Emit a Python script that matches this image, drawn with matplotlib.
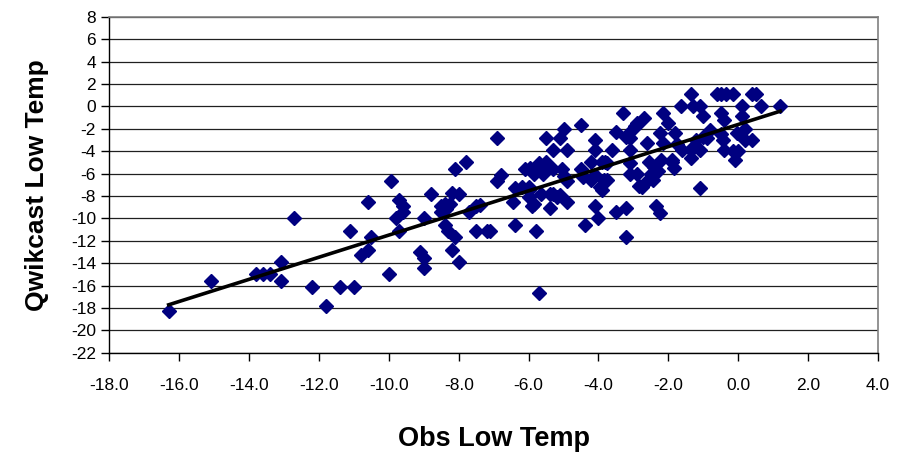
import numpy as np
import matplotlib
matplotlib.use("Agg")
import matplotlib.pyplot as plt

# ------------------- DATA ------------------- #
obs_low = [
    -16.3, -15.1, -13.8, -13.6, -13.4, -13.1, -13.1, -12.7, -12.2, -11.8,
    -11.4, -11.0, -11.1, -10.6, -10.8, -10.6, -10.5, -10.0, -9.8, -9.95,
    -9.7, -9.6, -9.6, -9.7,
    -9.0, -9.1, -9.0, -9.0, -8.8, -8.5, -8.4, -8.25, -8.5, -8.35,
    -8.4, -8.3, -8.1, -8.2, -8.0, -8.1, -7.8, -8.2, -8.0, -7.7,
    -7.5, -7.4, -7.5, -7.2, -7.1, -6.9, -6.9, -6.8,
    -6.45, -6.4, -6.2, -6.0, -6.0, -6.4,
    -6.1, -5.95, -5.85, -5.85, -5.7, -5.6, -5.5, -5.45, -5.3, -5.05, -5.0,
    -6.0, -5.9, -5.85, -5.65, -5.8, -5.7,
    -5.5, -5.3, -5.1, -5.0, -4.9,
    -5.4, -5.3, -5.2, -5.1, -4.9, -5.4, -4.9,
    -4.5, -4.5, -4.45, -4.4,
    -4.2, -4.2, -4.1, -4.1, -4.1, -3.95, -3.85, -3.9, -4.1, -4.0,
    -3.9, -3.75, -3.8, -3.75, -3.6, -3.5, -3.5, -3.2, -3.2, -3.3,
    -3.1, -3.1, -3.1, -3.1, -3.1, -2.9, -2.9, -2.85, -3.2,
    -2.9, -2.7, -2.95,
    -2.6, -2.55, -2.4, -2.5, -2.45, -2.75, -2.6, -2.35, -2.25,
    -2.25, -2.15, -2.15, -2.2, -2.3,
    -2.0, -1.8, -1.9, -1.85, -1.9,
    -1.65, -1.35, -1.3, -1.1, -1.0,
    -1.75, -1.6, -1.35, -1.35, -1.3, -1.2,
    -1.1, -1.0, -0.9, -0.8, -1.1,
    -0.6, -0.5, -0.35, -0.15,
    -0.5, -0.4, -0.45, -0.5, -0.4, -0.15,
    -0.05, -0.1,
    0.1, 0.1, 0.2, 0.2, 0.4, 0.0,
    0.4, 0.5, 0.65, 1.2,
]

qwik_low = [
    -18.3, -15.6, -15.0, -15.0, -15.0, -13.9, -15.6, -10.0, -16.1, -17.8,
    -16.1, -16.1, -11.1, -8.5, -13.3, -12.8, -11.7, -15.0, -10.0, -6.7,
    -8.4, -8.9, -9.4, -11.1,
    -10.0, -13.0, -13.5, -14.4, -7.8, -8.9, -8.7, -8.7, -9.4, -9.2,
    -10.6, -11.1, -11.7, -12.8, -13.9, -5.6, -5.0, -7.7, -7.8, -9.4,
    -8.9, -8.8, -11.1, -11.1, -11.1, -2.8, -6.7, -6.1,
    -8.5, -7.3, -7.2, -7.2, -7.5, -10.6,
    -5.6, -5.5, -6.0, -5.7, -5.1, -6.0, -5.0, -5.5, -5.6, -5.6, -6.2,
    -8.1, -8.9, -8.7, -7.8, -11.1, -16.7,
    -2.8, -3.9, -2.8, -2.0, -3.9,
    -7.8, -7.8, -8.1, -7.9, -8.5, -9.1, -6.7,
    -1.7, -5.6, -6.3, -10.6,
    -5.0, -6.6, -3.0, -3.9, -6.1, -7.2, -6.6, -7.5, -8.9, -10.0,
    -5.0, -5.1, -5.0, -6.6, -3.9, -2.3, -9.4, -9.1, -11.7, -0.6,
    -2.3, -2.8, -3.9, -5.1, -6.0, -6.0, -1.7, -7.1, -2.7,
    -1.5, -1.0, -1.8,
    -3.3, -5.0, -5.4, -6.0, -6.6, -7.2, -6.7, -8.9, -9.5,
    -2.4, -0.6, -3.3, -4.8, -5.8,
    -1.5, -2.4, -4.8, -5.5, -5.0,
    0.0, 1.1, 0.0, 0.0, -0.9,
    -3.4, -3.9, -3.9, -4.6, -3.6, -3.0,
    -3.9, -2.7, -2.8, -2.1, -7.3,
    1.1, 1.1, 1.1, 1.1,
    -0.6, -1.2, -3.0, -2.5, -3.9, -4.0,
    -2.4, -4.8,
    0.0, -0.9, -2.0, -3.0, -3.0, -4.0,
    1.1, 1.1, 0.0, 0.0,
]

x_ticks = np.arange(-18, 4.1, 2)
y_ticks = np.arange(-22, 8.1, 2)

# ------------------- PLOT ------------------- #
plt.rcParams["font.family"] = ["Liberation Sans", "DejaVu Sans"]

fig = plt.figure(figsize=(9.01, 4.53), dpi=100)
ax = fig.add_axes([0.1213, 0.2214, 0.8532, 0.7417])

ax.set_xlim(-18, 4)
ax.set_ylim(-22, 8)
ax.set_xticks(x_ticks)
ax.set_yticks(y_ticks)
ax.set_xticklabels([f"{v:.1f}" for v in x_ticks])
ax.set_yticklabels([f"{v:.0f}" for v in y_ticks])

ax.grid(axis="y", color="#202020", linewidth=0.9)
ax.set_axisbelow(True)

ax.plot(obs_low, qwik_low, linestyle="none", marker="D", markersize=7,
        color="#000080", markeredgecolor="#000080", zorder=3)

# linear trendline over the observed range
coef = np.polyfit(obs_low, qwik_low, 1)
xs = np.array([min(obs_low), max(obs_low)])
ax.plot(xs, np.polyval(coef, xs), color="black", linewidth=2.6, zorder=4)

for side in ("left", "bottom"):
    ax.spines[side].set_color("black")
    ax.spines[side].set_linewidth(1.0)
for side in ("top", "right"):
    ax.spines[side].set_color("#808080")
    ax.spines[side].set_linewidth(1.2)

ax.tick_params(axis="both", direction="out", length=6, width=1.0,
               labelsize=12.5, colors="black")
ax.tick_params(axis="x", pad=12)

ax.set_xlabel("Obs Low Temp", fontsize=19.5, fontweight="bold", labelpad=24)
ax.set_ylabel("Qwikcast Low Temp", fontsize=19, fontweight="bold", labelpad=16)

fig.savefig("out.png", dpi=100)
